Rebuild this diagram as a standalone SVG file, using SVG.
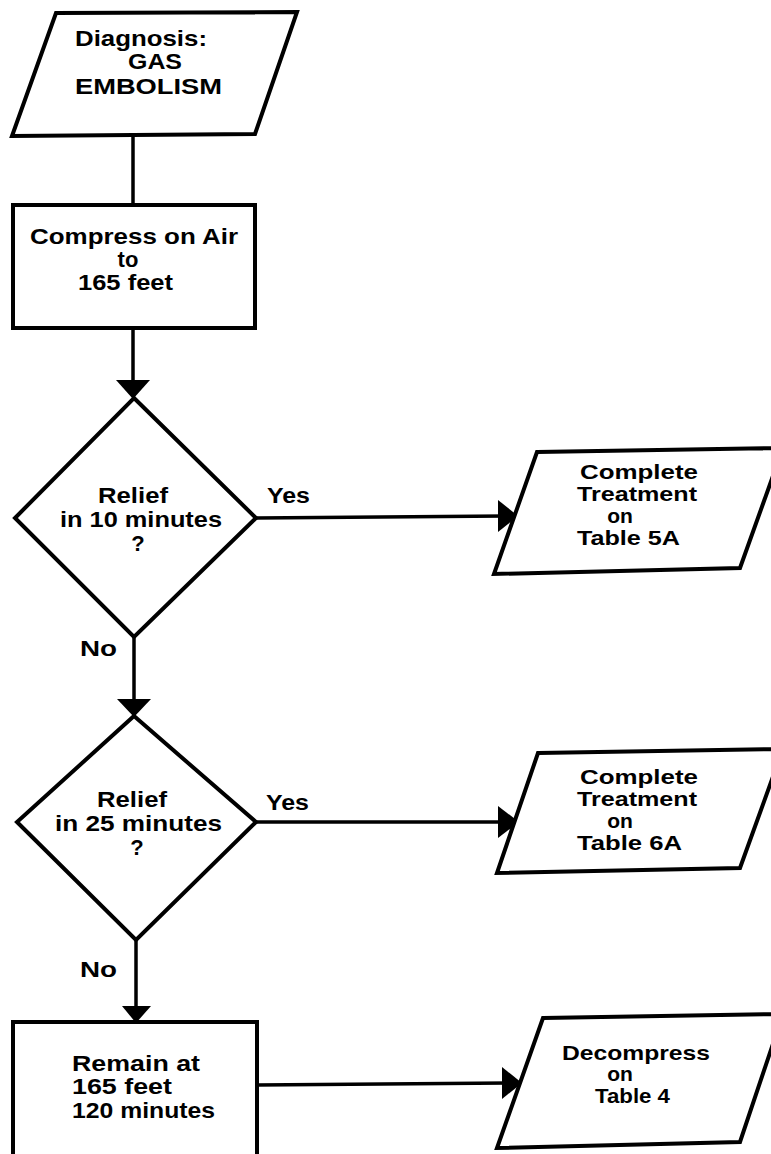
<svg xmlns="http://www.w3.org/2000/svg" width="771" height="1154" viewBox="0 0 771 1154">
<defs>
<style>
.s{fill:#fff;stroke:#000;stroke-width:4;stroke-linejoin:miter}
.c{fill:none;stroke:#000;stroke-width:3.5}
.a{fill:#000;stroke:none}
text{font-family:"Liberation Sans",Arial,sans-serif;font-weight:bold;font-size:22px;fill:#000}
.p{font-size:21px}
</style>
</defs>
<rect width="771" height="1154" fill="#fff"/>
<g id="connectors">
<line class="c" x1="133" y1="135" x2="133" y2="205"/>
<line class="c" x1="133" y1="328" x2="133" y2="390"/>
<polygon class="a" points="116,380 150,380 133,399"/>
<line class="c" x1="256" y1="518" x2="505" y2="516"/>
<polygon class="a" points="498,500 518,516 498,532"/>
<line class="c" x1="134" y1="637" x2="134" y2="708"/>
<polygon class="a" points="117,699 151,699 134,717"/>
<line class="c" x1="256" y1="822" x2="505" y2="822"/>
<polygon class="a" points="498,806 519,822 498,838"/>
<line class="c" x1="136" y1="940" x2="136" y2="1014"/>
<polygon class="a" points="122,1006 151,1006 136,1023"/>
<line class="c" x1="257" y1="1085" x2="508" y2="1083"/>
<polygon class="a" points="502,1067 522,1083 502,1099"/>
<text x="267" y="503" textLength="43" lengthAdjust="spacingAndGlyphs">Yes</text>
<text x="80" y="656" textLength="37" lengthAdjust="spacingAndGlyphs">No</text>
<text x="266" y="810" textLength="43" lengthAdjust="spacingAndGlyphs">Yes</text>
<text x="80" y="977" textLength="37" lengthAdjust="spacingAndGlyphs">No</text>
</g>
<g id="diagnosis">
<polygon class="s" points="56,13 297,12 255,134 12,136"/>
<text x="75" y="46" textLength="132" lengthAdjust="spacingAndGlyphs">Diagnosis:</text>
<text x="128" y="69" textLength="54" lengthAdjust="spacingAndGlyphs">GAS</text>
<text x="75" y="94" textLength="147" lengthAdjust="spacingAndGlyphs">EMBOLISM</text>
</g>
<g id="compress">
<rect class="s" x="13" y="205" width="242" height="123"/>
<text x="30" y="244" textLength="208" lengthAdjust="spacingAndGlyphs">Compress on Air</text>
<text x="128" y="267" text-anchor="middle">to</text>
<text x="78" y="290" textLength="95" lengthAdjust="spacingAndGlyphs">165 feet</text>
</g>
<g id="relief10">
<polygon class="s" points="134,398 256,518 134,637 15,518"/>
<text x="98" y="503" textLength="70" lengthAdjust="spacingAndGlyphs">Relief</text>
<text x="60" y="527" textLength="162" lengthAdjust="spacingAndGlyphs">in 10 minutes</text>
<text x="138" y="551" text-anchor="middle">?</text>
</g>
<g id="table5a">
<polygon class="s" points="537,452 783,448 740,568 494,574"/>
<text class="p" x="580" y="479" textLength="118" lengthAdjust="spacingAndGlyphs">Complete</text>
<text class="p" x="577" y="501" textLength="120" lengthAdjust="spacingAndGlyphs">Treatment</text>
<text class="p" x="620" y="523" text-anchor="middle">on</text>
<text class="p" x="577" y="545" textLength="103" lengthAdjust="spacingAndGlyphs">Table 5A</text>
</g>
<g id="relief25">
<polygon class="s" points="134,716 256,822 136,940 17,822"/>
<text x="97" y="807" textLength="70" lengthAdjust="spacingAndGlyphs">Relief</text>
<text x="55" y="831" textLength="167" lengthAdjust="spacingAndGlyphs">in 25 minutes</text>
<text x="137" y="855" text-anchor="middle">?</text>
</g>
<g id="table6a">
<polygon class="s" points="538,753 783,749 740,868 497,873"/>
<text class="p" x="580" y="784" textLength="118" lengthAdjust="spacingAndGlyphs">Complete</text>
<text class="p" x="577" y="806" textLength="120" lengthAdjust="spacingAndGlyphs">Treatment</text>
<text class="p" x="620" y="828" text-anchor="middle">on</text>
<text class="p" x="577" y="850" textLength="105" lengthAdjust="spacingAndGlyphs">Table 6A</text>
</g>
<g id="remain">
<rect class="s" x="13" y="1022" width="244" height="140"/>
<text x="72" y="1071" textLength="128" lengthAdjust="spacingAndGlyphs">Remain at</text>
<text x="72" y="1094" textLength="100" lengthAdjust="spacingAndGlyphs">165 feet</text>
<text x="72" y="1118" textLength="143" lengthAdjust="spacingAndGlyphs">120 minutes</text>
</g>
<g id="table4">
<polygon class="s" points="543,1018 783,1014 740,1142 497,1148"/>
<text class="p" x="562" y="1060" textLength="148" lengthAdjust="spacingAndGlyphs">Decompress</text>
<text class="p" x="620" y="1081" text-anchor="middle">on</text>
<text class="p" x="595" y="1103" textLength="75" lengthAdjust="spacingAndGlyphs">Table 4</text>
</g>
</svg>
